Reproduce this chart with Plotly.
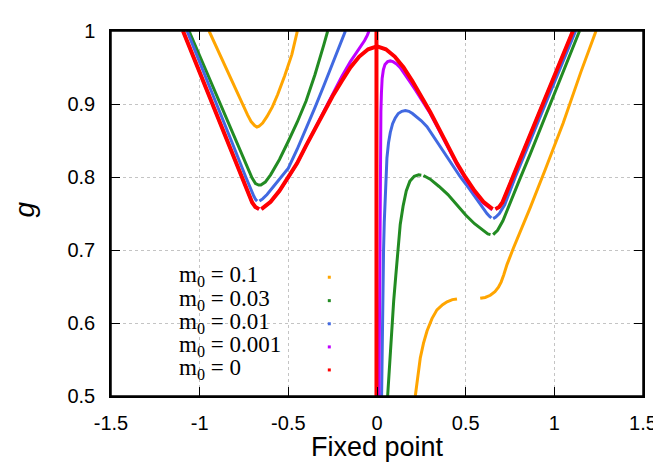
import plotly.graph_objects as go

# ---------------- data ----------------
series_names = ["m<sub>0</sub> = 0.1", "m<sub>0</sub> = 0.03", "m<sub>0</sub> = 0.01",
                "m<sub>0</sub> = 0.001", "m<sub>0</sub> = 0"]
series_colors = ["#FFA500", "#228B22", "#4169E1", "#C000FF", "#FF0000"]

x_ticks = [-1.5, -1.0, -0.5, 0.0, 0.5, 1.0, 1.5]
x_tick_labels = ["-1.5", "-1", "-0.5", "0", "0.5", "1", "1.5"]
y_ticks = [0.5, 0.6, 0.7, 0.8, 0.9, 1.0]
y_tick_labels = ["0.5", "0.6", "0.7", "0.8", "0.9", "1"]

# m0 = 0.1 (orange)
orange_x = [-0.947, -0.90, -0.85, -0.80, -0.76, -0.73, -0.71, -0.69, -0.677,
            -0.665, -0.645, -0.62, -0.59, -0.56, -0.52, -0.48, -0.449, None,
            0.216, 0.23, 0.244, 0.262, 0.282, 0.31, 0.338, 0.37, 0.395, 0.425, 0.451, None,
            0.582, 0.61, 0.639, 0.665, 0.685, 0.70, 0.715, 0.733, 0.770, 0.864, 0.95, 1.05, 1.15, 1.235]
orange_g = [1.0, 0.975, 0.948, 0.921, 0.90, 0.885, 0.876, 0.8705, 0.8685,
            0.8695, 0.874, 0.883, 0.896, 0.913, 0.939, 0.968, 1.0, None,
            0.5, 0.527, 0.552, 0.572, 0.589, 0.606, 0.618, 0.625, 0.629, 0.632, 0.633, None,
            0.634, 0.635, 0.638, 0.643, 0.649, 0.656, 0.666, 0.680, 0.703, 0.758, 0.811, 0.874, 0.944, 1.0]

# m0 = 0.03 (green)
green_x = [-1.06, -0.971, -0.882, -0.793, -0.73, -0.705, -0.685, -0.667,
           -0.655, -0.63, -0.60, -0.55, -0.50, -0.45, -0.40, -0.35, -0.30, -0.278, None,
           0.060, 0.072, 0.083, 0.094, 0.106, 0.118, 0.131, 0.147, 0.165, 0.185, 0.21, 0.235, 0.25, None,
           0.262, 0.30, 0.35, 0.40, 0.45, 0.50, 0.55, 0.60, 0.625, 0.64, None,
           0.655, 0.68, 0.71, 0.75, 0.80, 0.865, 0.95, 1.05, 1.142]
green_g = [1.0, 0.95, 0.9, 0.85, 0.815, 0.799, 0.791, 0.789,
           0.789, 0.793, 0.803, 0.824, 0.849, 0.875, 0.904, 0.940, 0.981, 1.0, None,
           0.50, 0.55, 0.60, 0.63, 0.665, 0.70, 0.735, 0.760, 0.781, 0.794, 0.801, 0.803, 0.8025, None,
           0.802, 0.797, 0.787, 0.776, 0.762, 0.748, 0.736, 0.726, 0.722, 0.721, None,
           0.721, 0.727, 0.740, 0.763, 0.794, 0.832, 0.884, 0.944, 1.0]

# m0 = 0.01 (blue)
blue_x = [-1.071, -0.987, -0.905, -0.822, -0.74, -0.712, -0.695, -0.684, -0.676, None,
          -0.663, -0.645, -0.62, -0.59, -0.55, -0.50, -0.45, -0.40, -0.35, -0.30, -0.25, -0.20, -0.178, None,
          0.026, 0.029, 0.033, 0.037, 0.041, 0.048, 0.056, 0.065, 0.075, 0.088, 0.103, 0.12, 0.14, 0.16,
          0.18, 0.20, 0.22, 0.25, 0.282, 0.32, 0.376, 0.42, 0.47, 0.52, 0.564, 0.60, 0.62, 0.635, 0.645, None,
          0.655, 0.67, 0.69, 0.72, 0.75, 0.78, 0.865, 0.95, 1.035, 1.12]
blue_g = [1.0, 0.95, 0.9, 0.85, 0.8, 0.783, 0.774, 0.769, 0.767, None,
          0.767, 0.770, 0.776, 0.785, 0.798, 0.812, 0.838, 0.866, 0.895, 0.925, 0.955, 0.986, 1.0, None,
          0.5, 0.57, 0.64, 0.70, 0.738, 0.790, 0.826, 0.847, 0.861, 0.873, 0.881, 0.887, 0.890, 0.891,
          0.890, 0.887, 0.883, 0.877, 0.869, 0.855, 0.834, 0.817, 0.800, 0.784, 0.769, 0.756, 0.750, 0.746, 0.744, None,
          0.743, 0.745, 0.750, 0.762, 0.781, 0.80, 0.85, 0.9, 0.95, 1.0]

# m0 = 0.001 (violet)
violet_x = [-1.094, -1.01, -0.927, -0.845, -0.762, -0.704, -0.686, -0.665, None,
            -0.652, -0.63, -0.60, -0.55, -0.50, -0.45, -0.40, -0.35, -0.30, -0.25, -0.20, -0.15,
            -0.12, -0.09, -0.07, -0.055, -0.045, None,
            0.011, 0.013, 0.015, 0.018, 0.020, 0.022, 0.025, 0.029, 0.036, 0.045, 0.06, 0.075, 0.09,
            0.11, 0.13, 0.16, 0.19, 0.22, 0.25, 0.30, 0.35, 0.40, 0.45, 0.50, 0.55, 0.60, 0.63, 0.65, None,
            0.668, 0.689, 0.707, 0.765, 0.85, 0.935, 1.02, 1.105]
violet_g = [1.0, 0.95, 0.9, 0.85, 0.8, 0.765, 0.759, 0.756, None,
            0.756, 0.760, 0.766, 0.781, 0.799, 0.819, 0.843, 0.866, 0.891, 0.914, 0.937, 0.958,
            0.969, 0.979, 0.987, 0.994, 1.0, None,
            0.5, 0.6, 0.7, 0.8, 0.85, 0.89, 0.915, 0.935, 0.947, 0.954, 0.958, 0.959, 0.958,
            0.955, 0.950, 0.940, 0.929, 0.918, 0.907, 0.887, 0.864, 0.841, 0.817, 0.797, 0.779, 0.764, 0.758, 0.755, None,
            0.756, 0.759, 0.765, 0.80, 0.85, 0.9, 0.95, 1.0]

# m0 = 0 (red)
red_x = [-1.094, -1.01, -0.927, -0.845, -0.762, -0.704, -0.686, -0.665, None,
         -0.652, -0.63, -0.60, -0.55, -0.50, -0.45, -0.40, -0.35, -0.30, -0.25, -0.20, -0.15, -0.10,
         -0.05, 0.0, 0.05, 0.10, 0.15, 0.20, 0.25, 0.30, 0.35, 0.40, 0.45, 0.50, 0.55, 0.60, 0.63, 0.652, None,
         0.668, 0.689, 0.707, 0.765, 0.85, 0.935, 1.02, 1.105, None,
         -0.003, -0.003]
red_g = [1.0, 0.95, 0.9, 0.85, 0.8, 0.765, 0.759, 0.756, None,
         0.756, 0.760, 0.766, 0.781, 0.799, 0.819, 0.843, 0.866, 0.889, 0.911, 0.931, 0.950, 0.965,
         0.975, 0.979, 0.975, 0.965, 0.950, 0.931, 0.911, 0.889, 0.866, 0.843, 0.819, 0.799, 0.781, 0.766, 0.760, 0.756, None,
         0.756, 0.759, 0.765, 0.80, 0.85, 0.9, 0.95, 1.0, None,
         0.5, 1.0]

series_x = [orange_x, green_x, blue_x, violet_x, red_x]
series_g = [orange_g, green_g, blue_g, violet_g, red_g]
series_widths = [3, 3, 3, 3, 4]

# ---------------- figure ----------------
fig = go.Figure()
for xs, gs, col, w, name in zip(series_x, series_g, series_colors, series_widths, series_names):
    fig.add_trace(go.Scatter(x=xs, y=gs, mode="lines", name=name,
                             line=dict(color=col, width=w), connectgaps=False,
                             showlegend=False, hoverinfo="skip"))

axis_common = dict(showline=True, linecolor="black", linewidth=1.5, mirror="ticks",
                   ticks="inside", ticklen=9, tickcolor="black", tickwidth=1,
                   showgrid=True, gridcolor="#c4c4c4", griddash="dot", gridwidth=1,
                   zeroline=False,
                   tickfont=dict(family="Liberation Sans", size=20, color="black"))

# the page body adds an 8 px offset; plot area lands at x 111..643, y 22..396 on screen
fig.update_layout(
    width=661, height=471,
    margin=dict(l=103, r=26, t=14, b=83),
    paper_bgcolor="white", plot_bgcolor="white",
    xaxis=dict(range=[-1.5, 1.5], tickvals=x_ticks, ticktext=x_tick_labels,
               ticklabelstandoff=8, **axis_common),
    yaxis=dict(range=[0.5, 1.0], tickvals=y_ticks, ticktext=y_tick_labels,
               ticklabelstandoff=10, **axis_common),
)

# on-screen pixel geometry of the plot area, used to place key items
px_l, px_r, px_t, px_b = 111, 643, 22, 396
def px2x(p):
    return (p - px_l) / (px_r - px_l)
def py2y(p):
    return (px_b - p) / (px_b - px_t)

# axis titles
fig.add_annotation(text="Fixed point", xref="paper", yref="paper", x=0.5, y=py2y(448),
                   xanchor="center", yanchor="middle", showarrow=False,
                   font=dict(family="Liberation Sans", size=27, color="black"))
fig.add_annotation(text="<i>g</i>", xref="paper", yref="paper", x=px2x(25), y=py2y(205),
                   xanchor="center", yanchor="middle", textangle=-90, showarrow=False,
                   font=dict(family="Liberation Sans", size=28, color="black"))

# plot frame
fig.add_shape(type="rect", xref="paper", yref="paper", x0=0, x1=1, y0=0, y1=1,
              line=dict(color="black", width=1.5), fillcolor="rgba(0,0,0,0)", layer="above")

# key box (white, hides grid)
fig.add_shape(type="rect", xref="paper", yref="paper", x0=px2x(155), x1=px2x(376),
              y0=py2y(384), y1=py2y(256), fillcolor="white", line=dict(width=0), layer="between")

key_rows_py = [274.3, 298.3, 322.0, 345.7, 369.3]
for name, col, py in zip(series_names, series_colors, key_rows_py):
    fig.add_annotation(text=name, xref="paper", yref="paper", x=px2x(177), y=py2y(py - 1),
                       xanchor="left", yanchor="middle", showarrow=False,
                       font=dict(family="Liberation Serif", size=23, color="black"))
    fig.add_shape(type="rect", xref="paper", yref="paper", xsizemode="pixel", ysizemode="pixel",
                  xanchor=px2x(329.3), yanchor=py2y(py), x0=-1.5, x1=1.5, y0=-1.5, y1=1.5,
                  fillcolor=col, line=dict(width=0), layer="above")

fig.write_html("out.html", config={"displayModeBar": False})
